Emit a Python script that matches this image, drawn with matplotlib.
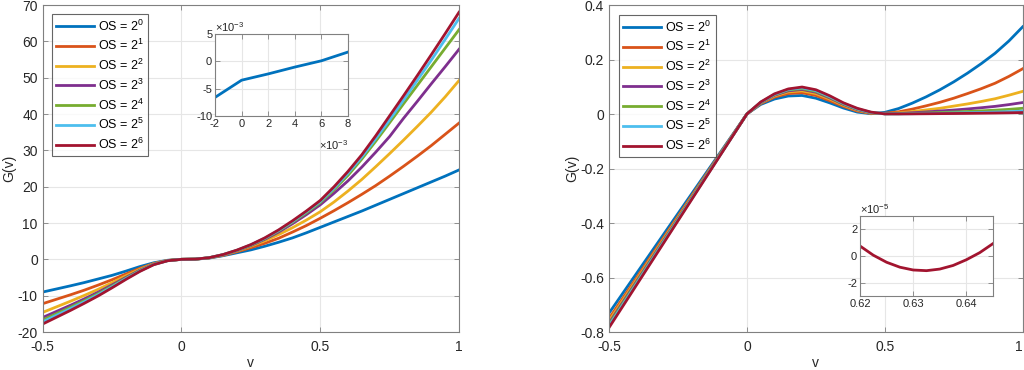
import matplotlib
matplotlib.use("Agg")
import matplotlib.pyplot as plt
import numpy as np

plt.rcParams['font.family'] = ['Liberation Sans', 'DejaVu Sans']
plt.rcParams['axes.unicode_minus'] = False
plt.rcParams['mathtext.fontset'] = 'custom'
plt.rcParams['mathtext.rm'] = 'Liberation Sans'
plt.rcParams['mathtext.it'] = 'Liberation Sans'

# ---------------- data ----------------
labels = ["OS = $2^{0}$", "OS = $2^{1}$", "OS = $2^{2}$", "OS = $2^{3}$",
          "OS = $2^{4}$", "OS = $2^{5}$", "OS = $2^{6}$"]
colors = ["#0072BD", "#D95319", "#EDB120", "#7E2F8E", "#77AC30", "#4DBEEE", "#A2142F"]

# left panel
v_left = [-0.5, -0.45, -0.4, -0.35, -0.3, -0.25, -0.2, -0.15, -0.1, -0.05, 0.0,
          0.05, 0.1, 0.15, 0.2, 0.25, 0.3, 0.35, 0.4, 0.45, 0.5,
          0.55, 0.6, 0.65, 0.7, 0.75, 0.8, 0.85, 0.9, 0.95, 1.0]
G_os1 = [-9.0, -8.15, -7.29, -6.39, -5.4, -4.41, -3.24, -2.0, -0.95, -0.26, 0.0,
         0.05, 0.35, 1.0, 1.8, 2.6, 3.6, 4.7, 5.9, 7.3, 8.8,
         10.3, 11.8, 13.3, 14.9, 16.5, 18.1, 19.7, 21.3, 22.9, 24.6]
G_os2 = [-12.2, -10.98, -9.76, -8.48, -7.08, -5.61, -4.03, -2.48, -1.15, -0.3, 0.0,
         0.06, 0.4, 1.1, 2.1, 3.2, 4.4, 5.8, 7.5, 9.3, 11.3,
         13.4, 15.6, 17.9, 20.3, 22.9, 25.6, 28.4, 31.3, 34.4, 37.5]
G_os4 = [-14.6, -13.07, -11.53, -9.93, -8.25, -6.42, -4.53, -2.74, -1.22, -0.32, 0.0,
         0.06, 0.42, 1.2, 2.3, 3.6, 5.1, 6.8, 8.7, 10.8, 13.1,
         15.8, 18.8, 22.0, 25.5, 29.1, 32.8, 36.6, 40.5, 44.7, 49.2]
G_os8 = [-16.0, -14.32, -12.64, -10.88, -9.04, -7.04, -4.96, -3.0, -1.33, -0.35, 0.0,
         0.06, 0.43, 1.25, 2.4, 3.8, 5.5, 7.5, 9.8, 12.3, 15.0,
         18.2, 21.6, 25.4, 29.5, 33.8, 38.8, 43.5, 48.3, 53.0, 57.8]
G_os16 = [-16.7, -14.95, -13.19, -11.36, -9.44, -7.35, -5.18, -3.13, -1.39, -0.36, 0.0,
          0.06, 0.44, 1.28, 2.45, 3.9, 5.7, 7.8, 10.2, 12.8, 15.6,
          19.2, 23.1, 27.6, 32.5, 37.6, 42.8, 47.9, 53.0, 58.1, 63.2]
G_os32 = [-17.2, -15.39, -13.59, -11.7, -9.72, -7.57, -5.33, -3.22, -1.43, -0.37, 0.0,
          0.06, 0.45, 1.3, 2.5, 4.0, 5.8, 7.95, 10.4, 13.1, 15.9,
          19.6, 23.7, 28.2, 33.2, 38.4, 43.8, 49.3, 54.8, 60.5, 66.3]
G_os64 = [-17.8, -15.93, -14.06, -12.1, -10.06, -7.83, -5.52, -3.33, -1.48, -0.39, 0.0,
          0.06, 0.46, 1.32, 2.55, 4.05, 5.9, 8.1, 10.6, 13.3, 16.2,
          20.0, 24.2, 28.8, 34.0, 39.5, 45.0, 50.6, 56.3, 62.1, 68.0]
left_series = [G_os1, G_os2, G_os4, G_os8, G_os16, G_os32, G_os64]

# left inset (zoom near v = 0)
v_inset_left = [-2e-3, 0.0, 2e-3, 4e-3, 6e-3, 8e-3]
G_inset_left = [-6.6e-3, -3.45e-3, -2.3e-3, -1.05e-3, 0.1e-3, 1.7e-3]

# right panel
v_right = [-0.5, -0.25, 0.0, 0.05, 0.1, 0.15, 0.2, 0.25, 0.3, 0.35, 0.4, 0.45, 0.5,
           0.55, 0.6, 0.65, 0.7, 0.75, 0.8, 0.85, 0.9, 0.95, 1.0]
H_os1 = [-0.731, -0.3655, 0.0, 0.035, 0.055, 0.066, 0.068, 0.058, 0.041, 0.022, 0.007, 0.001, 0.006,
         0.02, 0.04, 0.063, 0.089, 0.118, 0.15, 0.185, 0.223, 0.268, 0.32]
H_os2 = [-0.751, -0.3755, 0.0, 0.038, 0.062, 0.075, 0.078, 0.068, 0.049, 0.028, 0.011, 0.002, 0.003,
         0.008, 0.018, 0.03, 0.043, 0.058, 0.075, 0.093, 0.113, 0.138, 0.166]
H_os4 = [-0.760, -0.38, 0.0, 0.04, 0.066, 0.081, 0.085, 0.075, 0.055, 0.032, 0.014, 0.003, 0.0015,
         0.004, 0.009, 0.015, 0.021, 0.029, 0.037, 0.046, 0.056, 0.069, 0.083]
H_os8 = [-0.768, -0.384, 0.0, 0.041, 0.069, 0.085, 0.09, 0.08, 0.059, 0.035, 0.016, 0.004, 0.001,
         0.002, 0.0045, 0.0075, 0.011, 0.0145, 0.0185, 0.023, 0.028, 0.0345, 0.042]
H_os16 = [-0.773, -0.3865, 0.0, 0.042, 0.071, 0.088, 0.093, 0.083, 0.062, 0.037, 0.018, 0.005, 0.0008,
          0.001, 0.0022, 0.0037, 0.0055, 0.0072, 0.0092, 0.0115, 0.014, 0.017, 0.021]
H_os32 = [-0.778, -0.389, 0.0, 0.043, 0.072, 0.09, 0.096, 0.086, 0.064, 0.039, 0.019, 0.006, 0.0005,
          0.0005, 0.0011, 0.0019, 0.0027, 0.0036, 0.0046, 0.0058, 0.007, 0.0086, 0.0105]
H_os64 = [-0.784, -0.392, 0.0, 0.044, 0.074, 0.092, 0.099, 0.089, 0.067, 0.041, 0.021, 0.007, 0.0003,
          0.0002, 0.0005, 0.0009, 0.0014, 0.0018, 0.0023, 0.0029, 0.0035, 0.0043, 0.0053]
right_series = [H_os1, H_os2, H_os4, H_os8, H_os16, H_os32, H_os64]

# right inset (zoom near the minimum of OS = 2^6)
v_inset_right = [0.62, 0.6225, 0.625, 0.6275, 0.63, 0.6325, 0.635, 0.6375, 0.64, 0.6425, 0.645]
G_inset_right = [0.75e-5, 0.06e-5, -0.47e-5, -0.84e-5, -1.05e-5, -1.1e-5, -0.98e-5,
                 -0.71e-5, -0.28e-5, 0.25e-5, 0.93e-5]

# ---------------- figure ----------------
W, H = 1024, 370
fig = plt.figure(figsize=(W / 100, H / 100), dpi=100)

def fig_rect(x0, y0, x1, y1):
    return [x0 / W, 1 - y1 / H, (x1 - x0) / W, (y1 - y0) / H]

AX_COL = "#262626"
GRID_COL = "#e6e6e6"
FS = 10
FS_LEG = 9
FS_IN = 8

def style(ax, fs=FS):
    for s in ax.spines.values():
        s.set_color("#808080")
        s.set_linewidth(0.8)
    ax.tick_params(direction="in", top=True, right=True, length=3.5, width=0.6,
                   colors="#808080", labelcolor=AX_COL, labelsize=fs)
    ax.grid(True, color=GRID_COL, linewidth=0.8)
    ax.set_axisbelow(True)

def legend(ax, anchor):
    leg = ax.legend(loc="upper left", bbox_to_anchor=anchor, fontsize=FS_LEG,
                    frameon=True, fancybox=False, handlelength=3.0, handletextpad=0.35,
                    labelspacing=0.36, borderpad=0.35, borderaxespad=0)
    leg.get_frame().set_edgecolor("#404040")
    leg.get_frame().set_linewidth(0.8)
    return leg

# left main axes
axL = fig.add_axes(fig_rect(42.7, 5, 459, 332))
for y, c, lab in zip(left_series, colors, labels):
    axL.plot(v_left, y, color=c, lw=2.0, label=lab)
axL.set_xlim(-0.5, 1)
axL.set_ylim(-20, 70)
axL.set_xticks([-0.5, 0, 0.5, 1])
axL.set_xticklabels(["-0.5", "0", "0.5", "1"])
axL.set_yticks(range(-20, 71, 10))
style(axL)
axL.tick_params(axis="x", pad=6)
axL.set_xlabel("v", fontsize=FS, color=AX_COL, labelpad=1)
axL.set_ylabel("G(v)", fontsize=FS, color=AX_COL, labelpad=1)
legend(axL, (0.022, 0.972))

# left inset
axLi = fig.add_axes(fig_rect(215, 34, 348, 116))
axLi.plot(v_inset_left, G_inset_left, color=colors[0], lw=2.0)
axLi.set_xlim(-2e-3, 8e-3)
axLi.set_ylim(-10e-3, 5e-3)
axLi.set_xticks([-2e-3, 0, 2e-3, 4e-3, 6e-3, 8e-3])
axLi.set_xticklabels(["-2", "0", "2", "4", "6", "8"])
axLi.set_yticks([-10e-3, -5e-3, 0, 5e-3])
axLi.set_yticklabels(["-10", "-5", "0", "5"])
style(axLi, fs=FS_IN)
axLi.tick_params(pad=2)
axLi.text(0.0, 1.0, "×10$^{-3}$", transform=axLi.transAxes, fontsize=FS_IN,
          color=AX_COL, ha="left", va="bottom")
axLi.text(1.0, -0.27, "×10$^{-3}$", transform=axLi.transAxes, fontsize=FS_IN,
          color=AX_COL, ha="right", va="top")

# right main axes
axR = fig.add_axes(fig_rect(609, 5, 1022.7, 332))
for y, c, lab in zip(right_series, colors, labels):
    axR.plot(v_right, y, color=c, lw=2.0, label=lab)
axR.set_xlim(-0.5, 1)
axR.set_ylim(-0.8, 0.4)
axR.set_xticks([-0.5, 0, 0.5, 1])
axR.set_xticklabels(["-0.5", "0", "0.5", "1"])
axR.set_yticks([-0.8, -0.6, -0.4, -0.2, 0, 0.2, 0.4])
axR.set_yticklabels(["-0.8", "-0.6", "-0.4", "-0.2", "0", "0.2", "0.4"])
style(axR)
axR.tick_params(axis="x", pad=6)
axR.get_xticklabels()[-1].set_horizontalalignment("right")
axR.set_xlabel("v", fontsize=FS, color=AX_COL, labelpad=1)
axR.set_ylabel("G(v)", fontsize=FS, color=AX_COL, labelpad=1)
legend(axR, (0.024, 0.969))

# right inset
axRi = fig.add_axes(fig_rect(860, 216, 993, 296))
axRi.plot(v_inset_right, G_inset_right, color=colors[6], lw=2.0)
axRi.set_xlim(0.62, 0.645)
axRi.set_ylim(-3e-5, 3e-5)
axRi.set_xticks([0.62, 0.63, 0.64])
axRi.set_xticklabels(["0.62", "0.63", "0.64"])
axRi.set_yticks([-2e-5, 0, 2e-5])
axRi.set_yticklabels(["-2", "0", "2"])
style(axRi, fs=FS_IN)
axRi.tick_params(pad=2)
axRi.text(0.0, 1.0, "×10$^{-5}$", transform=axRi.transAxes, fontsize=FS_IN,
          color=AX_COL, ha="left", va="bottom")

fig.savefig("out.png", dpi=100)
